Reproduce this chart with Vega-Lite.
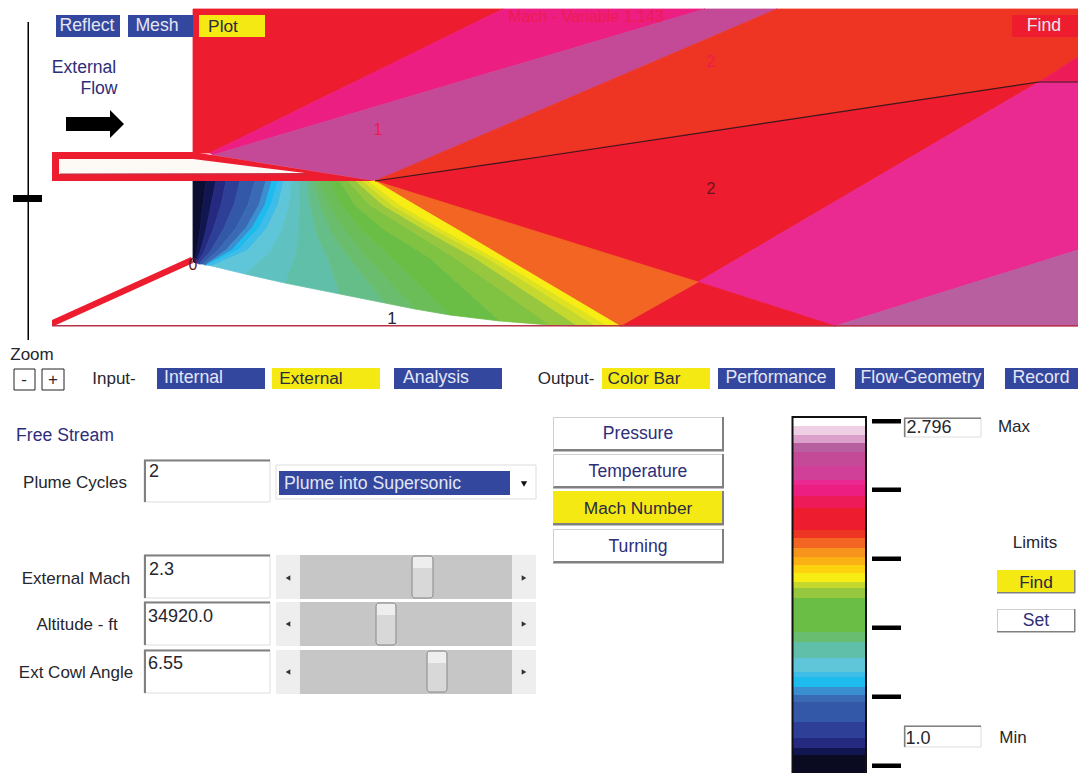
{"$schema":"https://vega.github.io/schema/vega-lite/v6.json","width":1078,"height":773,"padding":0,"autosize":{"type":"none"},"background":"white","view":{"stroke":null},
"layer":[
{"data":{"values":[{"type":"Feature","properties":{"part":"page"},"geometry":{"type":"Polygon","coordinates":[[[0,0],[1078,0],[1078,773],[0,773],[0,0]]]}}]},"mark":{"type":"geoshape","fill":"#ffffff","stroke":null},"projection":{"type":"identity"}},
{"data":{"values":[
{"type":"Feature","properties":{"mach":2.287},"geometry":{"type":"Polygon","coordinates":[[[193,9],[503,9],[210,153],[193,153],[193,9]]]}},
{"type":"Feature","properties":{"mach":2.42},"geometry":{"type":"Polygon","coordinates":[[[210,153],[503,9],[705,9],[213,155],[210,153]]]}},
{"type":"Feature","properties":{"mach":2.6},"geometry":{"type":"Polygon","coordinates":[[[213,155],[705,9],[777,9],[375,181],[213,155]]]}},
{"type":"Feature","properties":{"mach":2.206},"geometry":{"type":"Polygon","coordinates":[[[375,181],[777,9],[1078,9],[1078,57],[1039,82],[375,181]]]}},
{"type":"Feature","properties":{"mach":2.35},"geometry":{"type":"Polygon","coordinates":[[[1039,82],[1078,57],[1078,82],[1039,82]]]}},
{"type":"Feature","properties":{"mach":2.287},"geometry":{"type":"Polygon","coordinates":[[[375,181],[1039,82],[698,282],[540,233],[375,181]]]}},
{"type":"Feature","properties":{"mach":2.475},"geometry":{"type":"Polygon","coordinates":[[[1039,82],[1078,82],[1078,250],[835,326],[698,282],[1039,82]]]}},
{"type":"Feature","properties":{"mach":2.658},"geometry":{"type":"Polygon","coordinates":[[[1078,250],[1078,326],[835,326],[1078,250]]]}},
{"type":"Feature","properties":{"mach":2.287},"geometry":{"type":"Polygon","coordinates":[[[698,282],[835,326],[620,326],[698,282]]]}},
{"type":"Feature","properties":{"mach":2.157},"geometry":{"type":"Polygon","coordinates":[[[375,181],[698,282],[620,326],[375,181]]]}},
{"type":"Feature","properties":{"mach":1.03},"geometry":{"type":"Polygon","coordinates":[[[193,181],[193,205],[193,230],[193,250],[193,262],[194,262],[197,250],[200,230],[203,205],[206,181],[193,181]]]}},
{"type":"Feature","properties":{"mach":1.07},"geometry":{"type":"Polygon","coordinates":[[[206,181],[203,205],[200,230],[197,250],[194,262],[195,263],[200,252],[206,230],[211,205],[216,181],[206,181]]]}},
{"type":"Feature","properties":{"mach":1.113},"geometry":{"type":"Polygon","coordinates":[[[216,181],[211,205],[206,230],[200,252],[195,263],[197,263],[204,252],[213,230],[221,205],[226,181],[216,181]]]}},
{"type":"Feature","properties":{"mach":1.183},"geometry":{"type":"Polygon","coordinates":[[[226,181],[221,205],[213,230],[204,252],[197,263],[199,264],[210,252],[223,230],[234,205],[240,181],[226,181]]]}},
{"type":"Feature","properties":{"mach":1.296},"geometry":{"type":"Polygon","coordinates":[[[240,181],[234,205],[223,230],[210,252],[199,264],[203,264],[218,250],[236,228],[248,205],[255,181],[240,181]]]}},
{"type":"Feature","properties":{"mach":1.348},"geometry":{"type":"Polygon","coordinates":[[[255,181],[248,205],[236,228],[218,250],[203,264],[205,265],[226,250],[246,228],[259,205],[266,181],[255,181]]]}},
{"type":"Feature","properties":{"mach":1.388},"geometry":{"type":"Polygon","coordinates":[[[266,181],[259,205],[246,228],[226,250],[205,265],[206,265],[232,250],[252,228],[265,205],[272,181],[266,181]]]}},
{"type":"Feature","properties":{"mach":1.435},"geometry":{"type":"Polygon","coordinates":[[[272,181],[265,205],[252,228],[232,250],[206,265],[208,265],[238,250],[259,228],[271,205],[278,181],[272,181]]]}},
{"type":"Feature","properties":{"mach":1.475},"geometry":{"type":"Polygon","coordinates":[[[278,181],[271,205],[259,228],[238,250],[208,265],[212,266],[248,250],[267,228],[278,205],[284,181],[278,181]]]}},
{"type":"Feature","properties":{"mach":1.522},"geometry":{"type":"Polygon","coordinates":[[[284,181],[278,205],[267,228],[248,250],[212,266],[245,274],[270,252],[282,230],[289,205],[292,181],[284,181]]]}},
{"type":"Feature","properties":{"mach":1.56},"geometry":{"type":"Polygon","coordinates":[[[292,181],[289,205],[282,230],[270,252],[245,274],[285,283],[296,256],[299,232],[300,205],[300,181],[292,181]]]}},
{"type":"Feature","properties":{"mach":1.6},"geometry":{"type":"Polygon","coordinates":[[[300,181],[300,205],[299,232],[296,256],[285,283],[340,294],[328,258],[317,235],[310,205],[307,181],[300,181]]]}},
{"type":"Feature","properties":{"mach":1.64},"geometry":{"type":"Polygon","coordinates":[[[307,181],[310,205],[317,235],[328,258],[340,294],[385,303],[350,258],[333,235],[320,205],[313,181],[307,181]]]}},
{"type":"Feature","properties":{"mach":1.68},"geometry":{"type":"Polygon","coordinates":[[[313,181],[320,205],[333,235],[350,258],[385,303],[415,309],[365,255],[345,230],[329,205],[320,181],[313,181]]]}},
{"type":"Feature","properties":{"mach":1.73},"geometry":{"type":"Polygon","coordinates":[[[320,181],[329,205],[345,230],[365,255],[415,309],[450,315],[392,258],[362,230],[341,205],[330,181],[320,181]]]}},
{"type":"Feature","properties":{"mach":1.783},"geometry":{"type":"Polygon","coordinates":[[[330,181],[341,205],[362,230],[392,258],[450,315],[500,321],[430,258],[385,230],[355,205],[340,181],[330,181]]]}},
{"type":"Feature","properties":{"mach":1.84},"geometry":{"type":"Polygon","coordinates":[[[340,181],[355,205],[385,230],[430,258],[500,321],[550,325],[455,258],[410,230],[370,205],[348,181],[340,181]]]}},
{"type":"Feature","properties":{"mach":1.895},"geometry":{"type":"Polygon","coordinates":[[[348,181],[370,205],[410,230],[455,258],[550,325],[578,326],[475,258],[425,230],[383,205],[356,181],[348,181]]]}},
{"type":"Feature","properties":{"mach":1.94},"geometry":{"type":"Polygon","coordinates":[[[356,181],[383,205],[425,230],[475,258],[578,326],[596,326],[487,258],[435,230],[392,205],[363,181],[356,181]]]}},
{"type":"Feature","properties":{"mach":1.96},"geometry":{"type":"Polygon","coordinates":[[[363,181],[392,205],[435,230],[487,258],[596,326],[608,326],[495,258],[443,230],[400,205],[369,181],[363,181]]]}},
{"type":"Feature","properties":{"mach":1.98},"geometry":{"type":"Polygon","coordinates":[[[369,181],[400,205],[443,230],[495,258],[608,326],[620,326],[505,258],[458,230],[415,205],[375,181],[369,181]]]}}
]},"mark":{"type":"geoshape","strokeWidth":0.8},"projection":{"type":"identity"},
"encoding":{
"fill":{"field":"properties.mach","type":"quantitative","legend":null,"scale":{"interpolate":"rgb","domain":[1.009,1.07,1.113,1.183,1.296,1.348,1.388,1.435,1.475,1.522,1.6,1.67,1.783,1.895,1.94,1.98,2.023,2.067,2.11,2.157,2.206,2.287,2.4,2.475,2.53,2.6,2.658,2.7,2.747,2.796],"range":["#0a0a20","#111650","#252a80","#2e3f98","#3458a8","#3b6ab4","#3a8fd0","#1ebbee","#3dbde8","#5fc5d8","#60bfa8","#69bd70","#6abd45","#96c73e","#c4d82e","#f7ec13","#fdd20e","#fbb014","#f7941e","#f26522","#ee3524","#ed1c2e","#ee1a7c","#ea2a90","#d03f98","#c44a98","#b85fa0","#dca0cc","#eecfe4","#ffffff"]}},
"stroke":{"field":"properties.mach","type":"quantitative","legend":null,"scale":{"interpolate":"rgb","domain":[1.009,1.07,1.113,1.183,1.296,1.348,1.388,1.435,1.475,1.522,1.6,1.67,1.783,1.895,1.94,1.98,2.023,2.067,2.11,2.157,2.206,2.287,2.4,2.475,2.53,2.6,2.658,2.7,2.747,2.796],"range":["#0a0a20","#111650","#252a80","#2e3f98","#3458a8","#3b6ab4","#3a8fd0","#1ebbee","#3dbde8","#5fc5d8","#60bfa8","#69bd70","#6abd45","#96c73e","#c4d82e","#f7ec13","#fdd20e","#fbb014","#f7941e","#f26522","#ee3524","#ed1c2e","#ee1a7c","#ea2a90","#d03f98","#c44a98","#b85fa0","#dca0cc","#eecfe4","#ffffff"]}}}},
{"data":{"values":[
{"type":"Feature","properties":{"part":"nozzle"},"geometry":{"type":"Polygon","coordinates":[[[52,152],[193,152],[375,181],[52,181],[52,152]]]}},
{"type":"Feature","properties":{"part":"cowl"},"geometry":{"type":"Polygon","coordinates":[[[52,320],[191,257],[193,263],[56,325],[52,325],[52,320]]]}}
]},"mark":{"type":"geoshape","fill":"#ed1c2e","stroke":null},"projection":{"type":"identity"}},
{"data":{"values":[{"type":"Feature","properties":{"part":"nozzle inside"},"geometry":{"type":"Polygon","coordinates":[[[59,159],[193,159],[305,173],[59,174],[59,159]]]}}]},"mark":{"type":"geoshape","fill":"#fdfaf6","stroke":null},"projection":{"type":"identity"}},
{"data":{"values":[{"type":"Feature","properties":{"part":"arrow"},"geometry":{"type":"Polygon","coordinates":[[[66,117],[110,117],[110,110],[124,124],[110,138],[110,131],[66,131],[66,117]]]}}]},"mark":{"type":"geoshape","fill":"#000000","stroke":null},"projection":{"type":"identity"}},
{"data":{"values":[{"x":375,"y":181},{"x":540,"y":157},{"x":1039,"y":82},{"x":1078,"y":82}]},"mark":{"type":"line","color":"#3a1a1a","strokeWidth":1.2},"encoding":{"x":{"field":"x","type":"quantitative","axis":null,"scale":{"domain":[0,1078]}},"y":{"field":"y","type":"quantitative","axis":null,"scale":{"domain":[773,0]}}}},
{"data":{"values":[{"x":52,"x2":1078,"y":325,"y2":326.5},{"x":60,"x2":305,"y":173.5,"y2":174.5}]},"mark":{"type":"rect","color":"#b8324a"},"encoding":{"x":{"field":"x","type":"quantitative","axis":null,"scale":{"domain":[0,1078]}},"x2":{"field":"x2"},"y":{"field":"y","type":"quantitative","axis":null,"scale":{"domain":[773,0]}},"y2":{"field":"y2"}}},
{"data":{"values":[
{"x":27.5,"x2":29,"y":22,"y2":340},{"x":13,"x2":42,"y":195,"y2":202},
{"x":872,"x2":901,"y":419,"y2":423.5},{"x":872,"x2":901,"y":487.5,"y2":492},{"x":872,"x2":901,"y":556.5,"y2":561},{"x":872,"x2":901,"y":625.5,"y2":630},{"x":872,"x2":901,"y":694.5,"y2":699},{"x":872,"x2":901,"y":763.5,"y2":768}
]},"mark":{"type":"rect","color":"#000000"},"encoding":{"x":{"field":"x","type":"quantitative","axis":null,"scale":{"domain":[0,1078]}},"x2":{"field":"x2"},"y":{"field":"y","type":"quantitative","axis":null,"scale":{"domain":[773,0]}},"y2":{"field":"y2"}}},
{"data":{"values":[
{"x":144,"x2":270,"y":460,"y2":502},{"x":144,"x2":270,"y":555,"y2":598},{"x":144,"x2":270,"y":602,"y2":645},{"x":144,"x2":270,"y":650,"y2":693},
{"x":904,"x2":981,"y":418,"y2":437},{"x":904,"x2":981,"y":726,"y2":747},{"x":276,"x2":536,"y":465,"y2":499}
]},"mark":{"type":"rect","fill":"#ffffff","stroke":"#dddddd","strokeWidth":1},"encoding":{"x":{"field":"x","type":"quantitative","axis":null,"scale":{"domain":[0,1078]}},"x2":{"field":"x2"},"y":{"field":"y","type":"quantitative","axis":null,"scale":{"domain":[773,0]}},"y2":{"field":"y2"}}},
{"data":{"values":[
{"x":56,"x2":120,"y":15,"y2":37},{"x":128,"x2":193,"y":15,"y2":37},
{"x":157,"x2":265,"y":368,"y2":389},{"x":394,"x2":502,"y":368,"y2":389},
{"x":718,"x2":835,"y":368,"y2":389},{"x":855,"x2":984,"y":368,"y2":389},{"x":1005,"x2":1078,"y":368,"y2":389},
{"x":279,"x2":510,"y":471,"y2":495}
]},"mark":{"type":"rect","color":"#33479f"},"encoding":{"x":{"field":"x","type":"quantitative","axis":null,"scale":{"domain":[0,1078]}},"x2":{"field":"x2"},"y":{"field":"y","type":"quantitative","axis":null,"scale":{"domain":[773,0]}},"y2":{"field":"y2"}}},
{"data":{"values":[
{"x":199,"x2":265,"y":15,"y2":37},{"x":272,"x2":380,"y":368,"y2":389},{"x":602,"x2":710,"y":368,"y2":389},
{"x":553,"x2":724,"y":491,"y2":525},{"x":997,"x2":1075,"y":570,"y2":593}
]},"mark":{"type":"rect","color":"#f5e914"},"encoding":{"x":{"field":"x","type":"quantitative","axis":null,"scale":{"domain":[0,1078]}},"x2":{"field":"x2"},"y":{"field":"y","type":"quantitative","axis":null,"scale":{"domain":[773,0]}},"y2":{"field":"y2"}}},
{"data":{"values":[{"x":1012,"x2":1078,"y":15,"y2":37}]},"mark":{"type":"rect","color":"#ed1c2e"},"encoding":{"x":{"field":"x","type":"quantitative","axis":null,"scale":{"domain":[0,1078]}},"x2":{"field":"x2"},"y":{"field":"y","type":"quantitative","axis":null,"scale":{"domain":[773,0]}},"y2":{"field":"y2"}}},
{"data":{"values":[
{"x":144,"x2":270,"y":459.5,"y2":461.5},{"x":144,"x2":146,"y":460,"y2":502},
{"x":144,"x2":270,"y":554.5,"y2":556.5},{"x":144,"x2":146,"y":555,"y2":598},
{"x":144,"x2":270,"y":601.5,"y2":603.5},{"x":144,"x2":146,"y":602,"y2":645},
{"x":144,"x2":270,"y":649.5,"y2":651.5},{"x":144,"x2":146,"y":650,"y2":693},
{"x":904,"x2":981,"y":417.5,"y2":419},{"x":904,"x2":905.5,"y":418,"y2":437},
{"x":904,"x2":981,"y":725.5,"y2":727},{"x":904,"x2":905.5,"y":726,"y2":747},
{"x":553,"x2":724,"y":449,"y2":451.5},{"x":722,"x2":724,"y":417,"y2":451},
{"x":553,"x2":724,"y":486,"y2":488.5},{"x":722,"x2":724,"y":454,"y2":488},
{"x":553,"x2":724,"y":523,"y2":525.5},{"x":722,"x2":724,"y":491,"y2":525},
{"x":553,"x2":724,"y":561,"y2":563.5},{"x":722,"x2":724,"y":529,"y2":563},
{"x":997,"x2":1075,"y":592,"y2":593.5},{"x":1074,"x2":1075.5,"y":570,"y2":593},
{"x":997,"x2":1075,"y":631,"y2":632.5},{"x":1074,"x2":1075.5,"y":609,"y2":632}
]},"mark":{"type":"rect","color":"#808080"},"encoding":{"x":{"field":"x","type":"quantitative","axis":null,"scale":{"domain":[0,1078]}},"x2":{"field":"x2"},"y":{"field":"y","type":"quantitative","axis":null,"scale":{"domain":[773,0]}},"y2":{"field":"y2"}}},
{"data":{"values":[
{"x":553,"x2":722,"y":417,"y2":418},{"x":553,"x2":554,"y":417,"y2":450},
{"x":553,"x2":722,"y":454,"y2":455},{"x":553,"x2":554,"y":454,"y2":487},
{"x":553,"x2":722,"y":529,"y2":530},{"x":553,"x2":554,"y":529,"y2":562},
{"x":997,"x2":1074,"y":609,"y2":610},{"x":997,"x2":998,"y":609,"y2":631}
]},"mark":{"type":"rect","color":"#cfcfcf"},"encoding":{"x":{"field":"x","type":"quantitative","axis":null,"scale":{"domain":[0,1078]}},"x2":{"field":"x2"},"y":{"field":"y","type":"quantitative","axis":null,"scale":{"domain":[773,0]}},"y2":{"field":"y2"}}},
{"data":{"values":[
{"x":276,"x2":536,"y":555,"y2":599},{"x":276,"x2":536,"y":602,"y2":646},{"x":276,"x2":536,"y":650,"y2":694}
]},"mark":{"type":"rect","color":"#eeeeee"},"encoding":{"x":{"field":"x","type":"quantitative","axis":null,"scale":{"domain":[0,1078]}},"x2":{"field":"x2"},"y":{"field":"y","type":"quantitative","axis":null,"scale":{"domain":[773,0]}},"y2":{"field":"y2"}}},
{"data":{"values":[
{"x":300,"x2":512,"y":555,"y2":599},{"x":300,"x2":512,"y":602,"y2":646},{"x":300,"x2":512,"y":650,"y2":694}
]},"mark":{"type":"rect","color":"#c6c6c6"},"encoding":{"x":{"field":"x","type":"quantitative","axis":null,"scale":{"domain":[0,1078]}},"x2":{"field":"x2"},"y":{"field":"y","type":"quantitative","axis":null,"scale":{"domain":[773,0]}},"y2":{"field":"y2"}}},
{"data":{"values":[
{"x":412,"x2":433,"y":556,"y2":598},{"x":376,"x2":396,"y":603,"y2":645},{"x":427,"x2":447,"y":651,"y2":692}
]},"mark":{"type":"rect","fill":"#d8d8d8","stroke":"#8a8a8a","strokeWidth":1,"cornerRadius":3},"encoding":{"x":{"field":"x","type":"quantitative","axis":null,"scale":{"domain":[0,1078]}},"x2":{"field":"x2"},"y":{"field":"y","type":"quantitative","axis":null,"scale":{"domain":[773,0]}},"y2":{"field":"y2"}}},
{"data":{"values":[
{"x":413,"x2":432,"y":557,"y2":568},{"x":377,"x2":395,"y":604,"y2":615},{"x":428,"x2":446,"y":652,"y2":663}
]},"mark":{"type":"rect","color":"#eeeeee"},"encoding":{"x":{"field":"x","type":"quantitative","axis":null,"scale":{"domain":[0,1078]}},"x2":{"field":"x2"},"y":{"field":"y","type":"quantitative","axis":null,"scale":{"domain":[773,0]}},"y2":{"field":"y2"}}},
{"data":{"values":[
{"x":14,"x2":35,"y":369,"y2":390},{"x":42,"x2":64,"y":369,"y2":390}
]},"mark":{"type":"rect","fill":"#ffffff","stroke":"#222222","strokeWidth":1},"encoding":{"x":{"field":"x","type":"quantitative","axis":null,"scale":{"domain":[0,1078]}},"x2":{"field":"x2"},"y":{"field":"y","type":"quantitative","axis":null,"scale":{"domain":[773,0]}},"y2":{"field":"y2"}}},
{"data":{"values":[
{"mach":2.796,"y":417,"y2":426},{"mach":2.747,"y":426,"y2":435},{"mach":2.7,"y":435,"y2":443},{"mach":2.658,"y":443,"y2":452},{"mach":2.6,"y":452,"y2":466},{"mach":2.53,"y":466,"y2":480},{"mach":2.475,"y":480,"y2":485},{"mach":2.42,"y":485,"y2":496},{"mach":2.35,"y":496,"y2":508},{"mach":2.287,"y":508,"y2":530},{"mach":2.206,"y":530,"y2":538},{"mach":2.157,"y":538,"y2":548},{"mach":2.11,"y":548,"y2":557},{"mach":2.067,"y":557,"y2":565},{"mach":2.023,"y":565,"y2":573},{"mach":1.98,"y":573,"y2":582},{"mach":1.94,"y":582,"y2":588},{"mach":1.895,"y":588,"y2":598},{"mach":1.783,"y":598,"y2":632},{"mach":1.67,"y":632,"y2":642},{"mach":1.6,"y":642,"y2":658},{"mach":1.522,"y":658,"y2":672},{"mach":1.475,"y":672,"y2":677},{"mach":1.435,"y":677,"y2":687},{"mach":1.388,"y":687,"y2":695},{"mach":1.348,"y":695,"y2":702},{"mach":1.296,"y":702,"y2":722},{"mach":1.183,"y":722,"y2":738},{"mach":1.113,"y":738,"y2":748},{"mach":1.07,"y":748,"y2":755},{"mach":1.009,"y":755,"y2":773}
]},"mark":{"type":"rect","x":793,"x2":865},"encoding":{"y":{"field":"y","type":"quantitative","axis":null,"scale":{"domain":[773,0]}},"y2":{"field":"y2"},
"color":{"field":"mach","type":"quantitative","legend":null,"scale":{"interpolate":"rgb","domain":[1.009,1.07,1.113,1.183,1.296,1.348,1.388,1.435,1.475,1.522,1.6,1.67,1.783,1.895,1.94,1.98,2.023,2.067,2.11,2.157,2.206,2.287,2.4,2.475,2.53,2.6,2.658,2.7,2.747,2.796],"range":["#0a0a20","#111650","#252a80","#2e3f98","#3458a8","#3b6ab4","#3a8fd0","#1ebbee","#3dbde8","#5fc5d8","#60bfa8","#69bd70","#6abd45","#96c73e","#c4d82e","#f7ec13","#fdd20e","#fbb014","#f7941e","#f26522","#ee3524","#ed1c2e","#ee1a7c","#ea2a90","#d03f98","#c44a98","#b85fa0","#dca0cc","#eecfe4","#ffffff"]}}}},
{"data":{"values":[{"x":792.5,"x2":866,"y":417,"y2":775}]},"mark":{"type":"rect","fill":null,"fillOpacity":0,"stroke":"#111111","strokeWidth":2},"encoding":{"x":{"field":"x","type":"quantitative","axis":null,"scale":{"domain":[0,1078]}},"x2":{"field":"x2"},"y":{"field":"y","type":"quantitative","axis":null,"scale":{"domain":[773,0]}},"y2":{"field":"y2"}}},
{"data":{"values":[{"x":288,"y":578},{"x":288,"y":624},{"x":288,"y":672}]},"mark":{"type":"point","shape":"triangle-left","filled":true,"color":"#333333","size":28,"opacity":1},"encoding":{"x":{"field":"x","type":"quantitative","axis":null,"scale":{"domain":[0,1078]}},"y":{"field":"y","type":"quantitative","axis":null,"scale":{"domain":[773,0]}}}},
{"data":{"values":[{"x":524,"y":578},{"x":524,"y":624},{"x":524,"y":672}]},"mark":{"type":"point","shape":"triangle-right","filled":true,"color":"#333333","size":28,"opacity":1},"encoding":{"x":{"field":"x","type":"quantitative","axis":null,"scale":{"domain":[0,1078]}},"y":{"field":"y","type":"quantitative","axis":null,"scale":{"domain":[773,0]}}}},
{"data":{"values":[{"x":524,"y":484}]},"mark":{"type":"point","shape":"triangle-down","filled":true,"color":"#111111","size":40,"opacity":1},"encoding":{"x":{"field":"x","type":"quantitative","axis":null,"scale":{"domain":[0,1078]}},"y":{"field":"y","type":"quantitative","axis":null,"scale":{"domain":[773,0]}}}},
{"data":{"values":[
{"x":87,"y":26,"t":"Reflect"},{"x":157,"y":26,"t":"Mesh"},{"x":1044,"y":26,"t":"Find"},
{"x":193.5,"y":378,"t":"Internal"},{"x":436,"y":378,"t":"Analysis"},{"x":776,"y":378,"t":"Performance"},{"x":921,"y":378,"t":"Flow-Geometry"},{"x":1041,"y":378,"t":"Record"},{"x":372.5,"y":484,"t":"Plume into Supersonic"}
]},"mark":{"type":"text","font":"Liberation Sans","fontSize":17.7,"color":"#e4e6f4","align":"center","baseline":"middle"},"encoding":{"x":{"field":"x","type":"quantitative","axis":null,"scale":{"domain":[0,1078]}},"y":{"field":"y","type":"quantitative","axis":null,"scale":{"domain":[773,0]}},"text":{"field":"t"}}},
{"data":{"values":[
{"x":223,"y":26,"t":"Plot"},{"x":311,"y":378,"t":"External"},{"x":644,"y":378,"t":"Color Bar"},{"x":638,"y":508,"t":"Mach Number"},{"x":1036,"y":582,"t":"Find"}
]},"mark":{"type":"text","font":"Liberation Sans","fontSize":17.3,"color":"#2a2a40","align":"center","baseline":"middle","dy":0.5},"encoding":{"x":{"field":"x","type":"quantitative","axis":null,"scale":{"domain":[0,1078]}},"y":{"field":"y","type":"quantitative","axis":null,"scale":{"domain":[773,0]}},"text":{"field":"t"}}},
{"data":{"values":[
{"x":84,"y":67,"t":"External"},{"x":99,"y":88,"t":"Flow"},{"x":65,"y":435,"t":"Free Stream"},{"x":638,"y":433,"t":"Pressure"},{"x":638,"y":471,"t":"Temperature"},{"x":638,"y":546,"t":"Turning"},{"x":1036,"y":620,"t":"Set"}
]},"mark":{"type":"text","font":"Liberation Sans","fontSize":17.6,"color":"#2e2e78","align":"center","baseline":"middle","dy":1},"encoding":{"x":{"field":"x","type":"quantitative","axis":null,"scale":{"domain":[0,1078]}},"y":{"field":"y","type":"quantitative","axis":null,"scale":{"domain":[773,0]}},"text":{"field":"t"}}},
{"data":{"values":[
{"x":32,"y":354,"t":"Zoom"},{"x":114,"y":378,"t":"Input-"},{"x":566,"y":378,"t":"Output-"},{"x":75,"y":482,"t":"Plume Cycles"},{"x":76,"y":578,"t":"External Mach"},{"x":77,"y":624,"t":"Altitude - ft"},{"x":76,"y":672,"t":"Ext Cowl Angle"},{"x":1035,"y":542,"t":"Limits"},{"x":1014,"y":426,"t":"Max"},{"x":1013,"y":737,"t":"Min"},{"x":24,"y":379,"t":"-"},{"x":53,"y":379,"t":"+"},{"x":392,"y":318,"t":"1"}
]},"mark":{"type":"text","font":"Liberation Sans","fontSize":17,"color":"#26262e","align":"center","baseline":"middle","dy":1},"encoding":{"x":{"field":"x","type":"quantitative","axis":null,"scale":{"domain":[0,1078]}},"y":{"field":"y","type":"quantitative","axis":null,"scale":{"domain":[773,0]}},"text":{"field":"t"}}},
{"data":{"values":[
{"x":154,"y":472,"t":"2"},{"x":161.5,"y":570,"t":"2.3"},{"x":180.5,"y":617,"t":"34920.0"},{"x":165.5,"y":664,"t":"6.55"},{"x":929,"y":428,"t":"2.796"},{"x":918,"y":739,"t":"1.0"}
]},"mark":{"type":"text","font":"Liberation Sans","fontSize":18,"color":"#26262e","align":"center","baseline":"middle"},"encoding":{"x":{"field":"x","type":"quantitative","axis":null,"scale":{"domain":[0,1078]}},"y":{"field":"y","type":"quantitative","axis":null,"scale":{"domain":[773,0]}},"text":{"field":"t"}}},
{"data":{"values":[
{"x":378,"y":130,"t":"1"},{"x":711,"y":62,"t":"2"},{"x":586,"y":17,"t":"Mach - Variable 1.143"}
]},"mark":{"type":"text","font":"Liberation Sans","fontSize":16,"color":"#ed1c50","align":"center","baseline":"middle"},"encoding":{"x":{"field":"x","type":"quantitative","axis":null,"scale":{"domain":[0,1078]}},"y":{"field":"y","type":"quantitative","axis":null,"scale":{"domain":[773,0]}},"text":{"field":"t"}}},
{"data":{"values":[
{"x":711,"y":189,"t":"2"},{"x":193,"y":265,"t":"0"}
]},"mark":{"type":"text","font":"Liberation Sans","fontSize":16,"color":"#6a1420","align":"center","baseline":"middle"},"encoding":{"x":{"field":"x","type":"quantitative","axis":null,"scale":{"domain":[0,1078]}},"y":{"field":"y","type":"quantitative","axis":null,"scale":{"domain":[773,0]}},"text":{"field":"t"}}}
],
"resolve":{"scale":{"color":"independent","fill":"independent","stroke":"independent"}}}
